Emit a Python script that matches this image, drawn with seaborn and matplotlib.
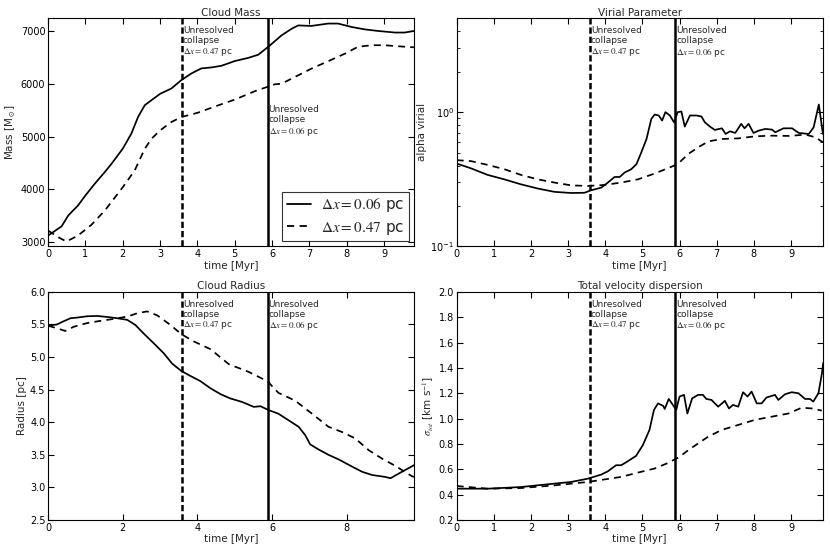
import numpy as np
import pandas as pd
import matplotlib
matplotlib.use("Agg")
import matplotlib.pyplot as plt
import matplotlib.transforms as mtransforms
import seaborn as sns

# ---------------- data ----------------
collapse_047 = 3.58
collapse_006 = 5.88

mass_t_hi = [0, 0.36, 0.54, 0.8, 1.0, 1.25, 1.52, 1.7, 2.0, 2.23, 2.41, 2.59, 3.0, 3.3, 3.57,
             3.84, 4.1, 4.38, 4.64, 5.0, 5.36, 5.63, 5.94, 6.25, 6.52, 6.7, 7.05, 7.5, 7.77,
             8.13, 8.48, 8.84, 9.29, 9.55, 9.8]
mass_hi = [3126, 3300, 3506, 3696, 3886, 4108, 4330, 4487, 4772, 5057, 5373, 5595, 5810, 5910, 6070,
           6196, 6290, 6310, 6340, 6430, 6490, 6550, 6725, 6915, 7040, 7105, 7095, 7140, 7140,
           7075, 7030, 7000, 6970, 6970, 7000]
mass_t_lo = [0, 0.27, 0.49, 0.8, 1.16, 1.52, 2.0, 2.32, 2.59, 2.77, 3.0, 3.3, 3.57, 4.0, 4.55,
             5.0, 5.54, 6.07, 6.25, 6.6, 7.05, 7.59, 7.95, 8.3, 8.66, 9.0, 9.38, 9.8]
mass_lo = [3220, 3095, 3013, 3126, 3330, 3600, 4042, 4360, 4770, 4960, 5117, 5275, 5370, 5450, 5590,
           5700, 5860, 5990, 6000, 6125, 6285, 6455, 6570, 6700, 6730, 6730, 6710, 6690]

vir_t_hi = [0, 0.38, 0.83, 1.28, 1.73, 2.18, 2.63, 3.08, 3.44, 3.62, 3.89, 4.07, 4.25, 4.39, 4.52,
            4.7, 4.84, 4.97, 5.11, 5.24, 5.33, 5.44, 5.53, 5.62, 5.74, 5.85, 5.95, 6.05, 6.14,
            6.28, 6.46, 6.59, 6.68, 6.82, 6.95, 7.14, 7.24, 7.36, 7.5, 7.66, 7.75, 7.86, 7.99,
            8.13, 8.31, 8.49, 8.58, 8.8, 9.03, 9.21, 9.48, 9.61, 9.75, 9.86]
vir_hi = [0.414, 0.382, 0.341, 0.316, 0.29, 0.27, 0.255, 0.25, 0.251, 0.262, 0.274, 0.299, 0.329,
          0.329, 0.355, 0.376, 0.41, 0.501, 0.631, 0.891, 0.96, 0.944, 0.866, 1.0, 0.944, 0.841,
          1.0, 1.01, 0.78, 0.944, 0.944, 0.928, 0.841, 0.78, 0.737, 0.758, 0.688, 0.72, 0.70,
          0.818, 0.758, 0.818, 0.70, 0.728, 0.75, 0.741, 0.708, 0.758, 0.758, 0.70, 0.688, 0.77,
          1.14, 0.688]
vir_t_lo = [0, 0.38, 0.83, 1.28, 1.73, 2.18, 2.63, 3.08, 3.53, 3.98, 4.43, 4.88, 5.33, 5.69, 5.95,
            6.23, 6.5, 6.78, 7.14, 7.59, 8.04, 8.49, 8.94, 9.39, 9.66, 9.86]
vir_lo = [0.439, 0.432, 0.405, 0.376, 0.341, 0.316, 0.299, 0.285, 0.282, 0.287, 0.299, 0.316, 0.349,
          0.383, 0.41, 0.487, 0.547, 0.606, 0.631, 0.638, 0.661, 0.668, 0.665, 0.68, 0.65, 0.596]

rad_t_hi = [0, 0.24, 0.42, 0.6, 0.78, 1.04, 1.31, 1.58, 1.85, 2.12, 2.34, 2.56, 2.83, 3.1, 3.32,
            3.57, 3.81, 4.08, 4.35, 4.62, 4.88, 5.2, 5.51, 5.69, 5.89, 6.17, 6.44, 6.71, 6.89,
            7.02, 7.25, 7.51, 7.78, 8.14, 8.41, 8.68, 9.04, 9.17, 9.48, 9.8]
rad_hi = [5.48, 5.50, 5.55, 5.595, 5.605, 5.625, 5.63, 5.615, 5.595, 5.57, 5.49, 5.36, 5.21, 5.056,
          4.90, 4.785, 4.71, 4.63, 4.52, 4.43, 4.365, 4.31, 4.235, 4.245, 4.19, 4.13, 4.03, 3.93,
          3.80, 3.66, 3.58, 3.50, 3.43, 3.32, 3.24, 3.19, 3.16, 3.14, 3.24, 3.34]
rad_t_lo = [0, 0.24, 0.46, 0.69, 1.04, 1.4, 1.76, 2.12, 2.38, 2.65, 2.92, 3.28, 3.57, 3.9, 4.35,
            4.84, 5.38, 5.73, 5.89, 6.17, 6.62, 7.07, 7.51, 7.87, 8.23, 8.59, 8.95, 9.3, 9.75, 9.9]
rad_lo = [5.48, 5.44, 5.40, 5.465, 5.52, 5.555, 5.585, 5.62, 5.67, 5.70, 5.64, 5.49, 5.35, 5.24,
          5.12, 4.89, 4.77, 4.67, 4.62, 4.45, 4.33, 4.13, 3.93, 3.85, 3.75, 3.57, 3.44, 3.33, 3.17, 3.15]

sig_t_hi = [0, 0.83, 1.73, 2.63, 3.08, 3.53, 3.89, 4.07, 4.29, 4.43, 4.61, 4.83, 5.01, 5.19, 5.31,
            5.42, 5.56, 5.6, 5.71, 5.82, 5.91, 6.0, 6.12, 6.21, 6.34, 6.5, 6.63, 6.72, 6.86, 7.04,
            7.22, 7.33, 7.44, 7.58, 7.71, 7.83, 7.94, 8.08, 8.21, 8.34, 8.57, 8.66, 8.84, 9.02,
            9.2, 9.38, 9.51, 9.6, 9.74, 9.83, 9.87]
sig_hi = [0.447, 0.447, 0.46, 0.487, 0.50, 0.526, 0.558, 0.584, 0.632, 0.632, 0.664, 0.706, 0.79,
          0.91, 1.068, 1.12, 1.10, 1.076, 1.155, 1.108, 1.068, 1.174, 1.187, 1.04, 1.16, 1.187,
          1.187, 1.155, 1.147, 1.094, 1.14, 1.08, 1.108, 1.094, 1.208, 1.174, 1.213, 1.12, 1.12,
          1.166, 1.187, 1.147, 1.192, 1.208, 1.2, 1.155, 1.155, 1.134, 1.2, 1.35, 1.44]
sig_t_lo = [0, 0.83, 1.73, 2.63, 3.53, 3.98, 4.43, 4.88, 5.33, 5.69, 6.0, 6.23, 6.5, 6.77, 7.13,
            7.58, 8.03, 8.48, 8.93, 9.29, 9.56, 9.83]
sig_lo = [0.468, 0.447, 0.452, 0.473, 0.50, 0.52, 0.54, 0.574, 0.606, 0.65, 0.698, 0.75, 0.804,
          0.857, 0.91, 0.95, 0.99, 1.015, 1.04, 1.086, 1.08, 1.063]

label_hi = r"$\Delta x=0.06$ pc"
label_lo = r"$\Delta x=0.47$ pc"

# ---------------- style ----------------
sns.set_style("ticks")
plt.rcParams.update({
    "font.family": ["DejaVu Sans"],
    "mathtext.fontset": "stix",
    "xtick.direction": "in",
    "ytick.direction": "in",
    "xtick.top": True,
    "ytick.right": True,
    "xtick.major.size": 4,
    "ytick.major.size": 4,
    "xtick.minor.size": 2.5,
    "ytick.minor.size": 2.5,
    "xtick.major.width": 0.8,
    "ytick.major.width": 0.8,
    "xtick.minor.width": 0.6,
    "ytick.minor.width": 0.6,
    "axes.linewidth": 0.8,
    "axes.edgecolor": "black",
    "xtick.color": "black",
    "ytick.color": "black",
    "xtick.labelsize": 7,
    "ytick.labelsize": 7,
    "axes.labelsize": 7.5,
    "axes.titlesize": 7.5,
    "xtick.major.pad": 2,
    "ytick.major.pad": 2,
})

fig, axes = plt.subplots(2, 2, figsize=(8.3, 5.54), dpi=100)
fig.subplots_adjust(left=0.058, right=0.991, top=0.967, bottom=0.0614, wspace=0.117, hspace=0.199)

LW = 1.25
DASH = (4, 3)


def draw(ax, t_hi, y_hi, t_lo, y_lo):
    sns.lineplot(x=t_hi, y=y_hi, ax=ax, color="black", lw=LW, label=label_hi)
    sns.lineplot(x=t_lo, y=y_lo, ax=ax, color="black", lw=LW, label=label_lo,
                 dashes=False, linestyle="--")
    ax.lines[-1].set_dashes(DASH)
    ax.axvline(collapse_047, color="black", lw=1.8, dashes=(2.5, 1.2))
    ax.axvline(collapse_006, color="black", lw=1.8)


def note(ax, x, yfrac, lab):
    trans = mtransforms.blended_transform_factory(ax.transData, ax.transAxes)
    ax.text(x + 0.03, yfrac, "Unresolved\ncollapse\n" + lab, transform=trans,
            ha="left", va="top", fontsize=6.5, linespacing=1.1)


# Cloud mass
ax = axes[0, 0]
draw(ax, mass_t_hi, mass_hi, mass_t_lo, mass_lo)
ax.set_xlim(0, 9.8)
ax.set_ylim(2920, 7240)
ax.set_xticks(range(0, 10))
ax.set_yticks([3000, 4000, 5000, 6000, 7000])
ax.set_title("Cloud Mass", pad=2)
ax.set_xlabel("time [Myr]", labelpad=1)
ax.set_ylabel(r"Mass [M$_\odot$]", labelpad=2)
note(ax, collapse_047, 0.965, label_lo)
note(ax, collapse_006, 0.62, label_hi)
leg = ax.legend(loc="lower right", fontsize=11, frameon=True, fancybox=False,
                edgecolor="black", handlelength=1.6, handletextpad=0.6,
                borderaxespad=0.35, borderpad=0.3, labelspacing=0.35)
leg.get_frame().set_linewidth(0.8)
for h in leg.get_lines():
    h.set_linewidth(1.3)

# Virial parameter
ax = axes[0, 1]
draw(ax, vir_t_hi, vir_hi, vir_t_lo, vir_lo)
ax.set_yscale("log")
ax.set_xlim(0, 9.85)
ax.set_ylim(0.1, 5.0)
ax.set_xticks(range(0, 10))
ax.set_title("Virial Parameter", pad=2)
ax.set_xlabel("time [Myr]", labelpad=1)
ax.set_ylabel("alpha virial", labelpad=2)
ax.get_legend().remove()
ax.tick_params(axis="y", which="minor", direction="in", left=True, right=True)
note(ax, collapse_047, 0.965, label_lo)
note(ax, collapse_006, 0.965, label_hi)

# Cloud radius
ax = axes[1, 0]
draw(ax, rad_t_hi, rad_hi, rad_t_lo, rad_lo)
ax.set_xlim(0, 9.8)
ax.set_ylim(2.5, 6.0)
ax.set_xticks([0, 2, 4, 6, 8])
ax.set_yticks(np.arange(2.5, 6.01, 0.5))
ax.yaxis.set_major_formatter(matplotlib.ticker.FormatStrFormatter("%.1f"))
ax.set_title("Cloud Radius", pad=2)
ax.set_xlabel("time [Myr]", labelpad=1)
ax.set_ylabel("Radius [pc]", labelpad=2)
ax.get_legend().remove()
note(ax, collapse_047, 0.965, label_lo)
note(ax, collapse_006, 0.965, label_hi)

# Velocity dispersion
ax = axes[1, 1]
draw(ax, sig_t_hi, sig_hi, sig_t_lo, sig_lo)
ax.set_xlim(0, 9.85)
ax.set_ylim(0.2, 2.0)
ax.set_xticks(range(0, 10))
ax.set_yticks(np.arange(0.2, 2.01, 0.2))
ax.yaxis.set_major_formatter(matplotlib.ticker.FormatStrFormatter("%.1f"))
ax.set_title("Total velocity dispersion", pad=2)
ax.set_xlabel("time [Myr]", labelpad=1)
ax.set_ylabel(r"$\sigma_{tot}$ [km s$^{-1}$]", labelpad=2)
ax.get_legend().remove()
note(ax, collapse_047, 0.965, label_lo)
note(ax, collapse_006, 0.965, label_hi)

fig.savefig("out.png", dpi=100)
